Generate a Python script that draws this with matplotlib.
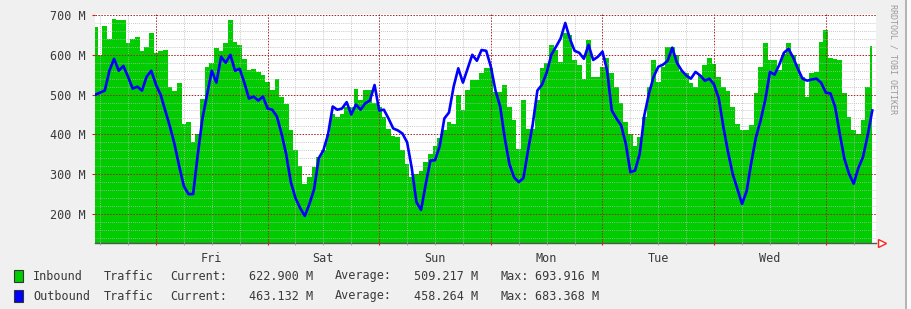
import numpy as np
import matplotlib
matplotlib.use("Agg")
import matplotlib.pyplot as plt
from matplotlib.ticker import MultipleLocator, FuncFormatter
from matplotlib.patches import Rectangle
from matplotlib.lines import Line2D

# hourly samples, hours counted from Fri 00:00
hours = np.arange(-13, 155)

# inbound traffic (green area), M
inbound = [670, 600, 672, 640, 690, 688, 688, 630, 640, 645, 610, 620, 655, 605, 610, 612, 520, 510, 530, 427, 430, 380, 400, 490,
           570, 580, 616, 610, 629, 688, 633, 625, 590, 561, 565, 557, 549, 532, 511, 540, 494, 477, 410, 360, 320, 276, 292, 317,
           343, 360, 402, 452, 444, 450, 469, 470, 515, 486, 511, 511, 480, 470, 444, 414, 395, 393, 360, 326, 292, 300, 309, 330,
           351, 370, 390, 410, 430, 425, 500, 460, 511, 536, 536, 553, 566, 566, 507, 507, 524, 469, 435, 364, 486, 414, 414, 486, 566,
           580, 624, 612, 582, 655, 650, 587, 574, 540, 637, 545, 545, 570, 591, 553, 519, 480, 430, 402, 370, 393, 444, 519, 587,
           532, 570, 620, 620, 600, 560, 553, 528, 519, 549, 574, 591, 578, 545, 519, 510, 470, 427, 410, 410, 423, 503, 570, 630,
           587, 587, 561, 603, 629, 600, 578, 545, 494, 553, 557, 633, 662, 591, 590, 587, 503, 444, 410, 402, 435, 519, 622]

# outbound traffic (blue line), M
outbound = [500, 505, 510, 560, 590, 560, 572, 545, 515, 520, 510, 545, 560, 525, 500, 460, 420, 375, 320, 270, 250, 250, 350, 440,
            500, 560, 530, 595, 580, 600, 560, 565, 530, 490, 495, 485, 495, 465, 462, 445, 402, 350, 280, 240, 215, 195, 225, 262,
            340, 360, 400, 470, 462, 465, 481, 450, 475, 462, 478, 485, 524, 460, 462, 440, 415, 410, 402, 380, 315, 230, 210, 275,
            334, 335, 370, 440, 455, 520, 566, 530, 565, 600, 585, 612, 610, 570, 510, 470, 390, 325, 292, 280, 290, 360, 425, 510, 525,
            555, 600, 620, 641, 680, 640, 610, 605, 590, 625, 587, 595, 608, 560, 460, 440, 423, 377, 305, 309, 351, 448, 503, 545,
            570, 575, 585, 618, 580, 561, 548, 540, 557, 548, 535, 540, 525, 490, 418, 355, 300, 263, 225, 258, 330, 393, 435, 487,
            557, 550, 575, 605, 615, 593, 565, 540, 535, 538, 540, 530, 505, 503, 470, 402, 339, 301, 276, 315, 343, 397, 460]

day_names = ["Fri", "Sat", "Sun", "Mon", "Tue", "Wed"]

legend_rows = [
    ("Inbound", "#00cc00", "622.900 M", "509.217 M", "693.916 M"),
    ("Outbound", "#0000ff", "463.132 M", "458.264 M", "683.368 M"),
]

W, H = 911, 309
mono = "DejaVu Sans Mono"
txt_col = "#3a3a3a"

fig = plt.figure(figsize=(W / 100, H / 100), dpi=100, facecolor="#f0f0f0")
ax = fig.add_axes([95 / W, 1 - 243 / H, 781 / W, 229 / H])
ax.set_facecolor("white")

ax.fill_between(hours, 0, inbound, step="mid", color="#00cc00", lw=0, zorder=1)
ax.plot(hours, outbound, color="#0000ff", lw=1.9, zorder=4)

ax.set_xlim(-13.1, 154.8)
ax.set_ylim(127, 702.5)

ax.yaxis.set_major_locator(MultipleLocator(100))
ax.yaxis.set_minor_locator(MultipleLocator(20))
ax.xaxis.set_major_locator(MultipleLocator(24))
ax.xaxis.set_minor_locator(MultipleLocator(6))

ax.set_axisbelow(False)
ax.grid(which="major", color="#a82020", ls=(0, (1.5, 1.5)), lw=0.7)
ax.grid(which="minor", color="#b8b8b8", ls=(0, (1, 1.5)), lw=0.6)

ax.yaxis.set_major_formatter(FuncFormatter(lambda v, p: "%d M" % v))
ax.xaxis.set_major_formatter(FuncFormatter(lambda v, p: ""))


def noon_label(v, p):
    k = int(round((v - 12) / 24))
    if abs(v - 12 - 24 * k) < 0.01 and 0 <= k < len(day_names):
        return day_names[k]
    return ""


ax.xaxis.set_minor_formatter(FuncFormatter(noon_label))

ax.tick_params(axis="y", which="major", length=2.5, color="#cc2020", pad=4,
               labelsize=8.5, labelcolor=txt_col)
ax.tick_params(axis="y", which="minor", length=0)
ax.tick_params(axis="x", which="major", length=3, direction="inout", color="#cc2020")
ax.tick_params(axis="x", which="minor", length=3, direction="inout", color="#999999",
               pad=5, labelsize=8.5, labelcolor=txt_col)
for lab in ax.get_yticklabels() + ax.get_xticklabels(minor=True):
    lab.set_family(mono)

for s in ("left", "top", "right"):
    ax.spines[s].set_visible(False)
ax.spines["bottom"].set_color("#555555")
ax.spines["bottom"].set_linewidth(1)

# red arrow at the end of the time axis
ax.plot([1.008], [0], marker=">", ms=6, mfc="white", mec="#ff2020", mew=1,
        transform=ax.transAxes, clip_on=False, zorder=5)

# legend
for i, (name, col, cur, avg, mx) in enumerate(legend_rows):
    yc = 276 + 20 * i
    fig.add_artist(Rectangle((14 / W, 1 - (yc + 6) / H), 9 / W, 12 / H,
                             transform=fig.transFigure, fc=col, ec="#333333", lw=0.8))
    parts = [(33, name), (104, "Traffic"), (170, "Current:"), (249, cur),
             (335, "Average:"), (414, avg), (500, "Max:"), (535, mx)]
    for px, t in parts:
        fig.text(px / W, 1 - yc / H, t, family=mono, size=8.5, color=txt_col,
                 ha="left", va="center")

fig.text(893 / W, 1 - 4 / H, "RRDTOOL / TOBI OETIKER", rotation=270, family=mono,
         size=6, color="#9a9a9a", ha="center", va="top")

# frame edge on the right
fig.add_artist(Rectangle((906 / W, 0), 5 / W, 1, transform=fig.transFigure,
                         fc="#fafafa", ec="none"))
fig.add_artist(Line2D([905.5 / W, 905.5 / W], [0, 1], transform=fig.transFigure,
                      color="#a8a8a8", lw=1.2))

fig.savefig("out.png", dpi=100, facecolor=fig.get_facecolor())
